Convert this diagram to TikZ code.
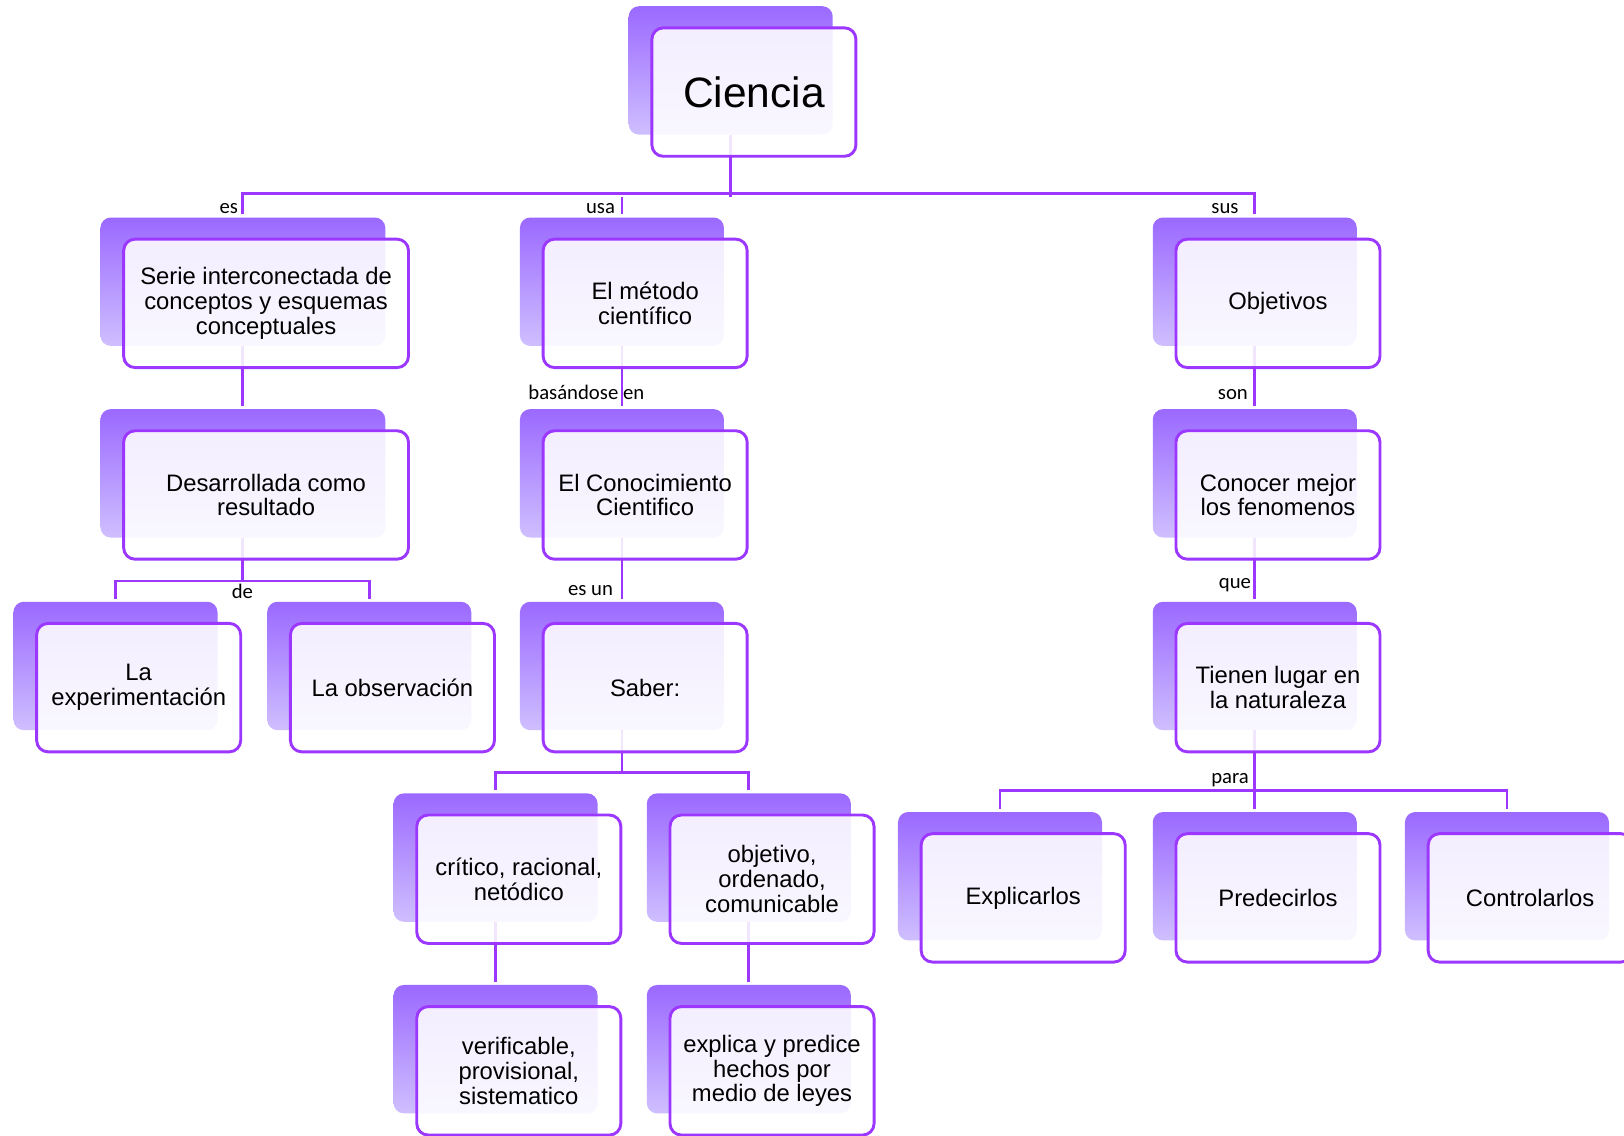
\documentclass[tikz,border=0pt]{standalone}
\usepackage{fontspec}
\setmainfont{Liberation Sans}
\newfontfamily\lblfont{Carlito}
\definecolor{vline}{RGB}{155,55,255}
\definecolor{btop}{RGB}{155,105,255}
\definecolor{bbot}{RGB}{207,191,255}
\tikzset{
  backbox/.style={rectangle, rounded corners=10pt, top color=btop, bottom color=bbot, draw=none,
    minimum width=197pt, minimum height=124pt, anchor=north west, inner sep=0pt, outer sep=0pt},
  wideback/.style={backbox, minimum width=275pt},
  frontbox/.style={rectangle, rounded corners=11pt, draw=vline, line width=2.8pt, fill=white,
    fill opacity=0.88, text opacity=1, minimum width=197pt, minimum height=124pt,
    anchor=north west, inner sep=0pt, align=center, font=\fontsize{23}{24}\selectfont},
  widefront/.style={frontbox, minimum width=275pt},
  conn/.style={draw=vline, line width=2.8pt},
  lbl/.style={font=\lblfont\fontsize{20}{24}\selectfont, inner sep=0pt, text=black},
}
\begin{document}
\begin{tikzpicture}[x=1pt,y=-1pt]
\fill[white] (0,0) rectangle (1568,1096);
\useasboundingbox (0,0) rectangle (1568,1096);
\clip (0,0) rectangle (1568,1096);

% back boxes
\node[backbox] (b-ciencia) at (607,6) {};
\node[wideback] (b-serie) at (97,210) {};
\node[backbox] (b-metodo) at (502,210) {};
\node[backbox] (b-obj) at (1113,210) {};
\node[wideback] (b-desarr) at (97,395) {};
\node[backbox] (b-conoc) at (502,395) {};
\node[backbox] (b-conocer) at (1113,395) {};
\node[backbox] (b-exp) at (13,581) {};
\node[backbox] (b-obs) at (258,581) {};
\node[backbox] (b-saber) at (502,581) {};
\node[backbox] (b-tienen) at (1113,581) {};
\node[backbox] (b-critico) at (380,766) {};
\node[backbox] (b-objetivo) at (624.5,766) {};
\node[backbox] (b-verif) at (380,951) {};
\node[backbox] (b-explica) at (624.5,951) {};
\node[backbox] (b-expl) at (867,784) {};
\node[backbox] (b-pred) at (1113,784) {};
\node[backbox] (b-contr) at (1356.5,784) {};

% connectors
\coordinate (h0) at (0,190);
\coordinate (h1) at (0,561);
\coordinate (h2) at (0,746);
\coordinate (h3) at (0,763.5);
\draw[conn] (b-ciencia.south) -- (b-ciencia.south |- h0);
\draw[conn] ([yshift=3pt]b-serie.north) |- ([yshift=3pt]b-obj.north |- h0) -- ([yshift=3pt]b-obj.north);
\draw[conn] (b-metodo.north |- h0) -- ([yshift=3pt]b-metodo.north);
\draw[conn] (b-serie.south) -- ([yshift=3pt]b-desarr.north);
\draw[conn] (b-metodo.south) -- ([yshift=3pt]b-conoc.north);
\draw[conn] (b-obj.south) -- ([yshift=3pt]b-conocer.north);
\draw[conn] (b-conoc.south) -- ([yshift=3pt]b-saber.north);
\draw[conn] (b-conocer.south) -- ([yshift=3pt]b-tienen.north);
\draw[conn] (b-desarr.south) -- (b-desarr.south |- h1);
\draw[conn] ([yshift=3pt]b-exp.north) |- (b-obs.north |- h1) -- ([yshift=3pt]b-obs.north);
\draw[conn] (b-saber.south) -- (b-saber.south |- h2);
\draw[conn] ([yshift=3pt]b-critico.north) |- (b-objetivo.north |- h2) -- ([yshift=3pt]b-objetivo.north);
\draw[conn] (b-critico.south) -- ([yshift=3pt]b-verif.north);
\draw[conn] (b-objetivo.south) -- ([yshift=3pt]b-explica.north);
\draw[conn] (b-tienen.south) -- ([yshift=3pt]b-pred.north);
\draw[conn] ([yshift=3pt]b-expl.north) |- (b-contr.north |- h3) -- ([yshift=3pt]b-contr.north);

% front boxes
\node[frontbox, font=\fontsize{41}{48}\selectfont] (ciencia) at ([shift={(21pt,-19.5pt)}]b-ciencia.north west) {Ciencia};
\node[widefront] (serie) at ([shift={(21pt,-19.5pt)}]b-serie.north west) {Serie interconectada de\\conceptos y esquemas\\conceptuales};
\node[frontbox] (metodo) at ([shift={(21pt,-19.5pt)}]b-metodo.north west) {El método\\científico};
\node[frontbox] (obj) at ([shift={(21pt,-19.5pt)}]b-obj.north west) {Objetivos};
\node[widefront] (desarr) at ([shift={(21pt,-19.5pt)}]b-desarr.north west) {Desarrollada como\\resultado};
\node[frontbox] (conoc) at ([shift={(21pt,-19.5pt)}]b-conoc.north west) {El Conocimiento\\Cientifico};
\node[frontbox] (conocer) at ([shift={(21pt,-19.5pt)}]b-conocer.north west) {Conocer mejor\\los fenomenos};
\node[frontbox] (exp) at ([shift={(21pt,-19.5pt)}]b-exp.north west) {La\\experimentación};
\node[frontbox] (obs) at ([shift={(21pt,-19.5pt)}]b-obs.north west) {La observación};
\node[frontbox] (saber) at ([shift={(21pt,-19.5pt)}]b-saber.north west) {Saber:};
\node[frontbox] (tienen) at ([shift={(21pt,-19.5pt)}]b-tienen.north west) {Tienen lugar en\\la naturaleza};
\node[frontbox] (critico) at ([shift={(21pt,-19.5pt)}]b-critico.north west) {crítico, racional,\\netódico};
\node[frontbox] (objetivo) at ([shift={(21pt,-19.5pt)}]b-objetivo.north west) {objetivo,\\ordenado,\\comunicable};
\node[frontbox] (verif) at ([shift={(21pt,-19.5pt)}]b-verif.north west) {verificable,\\provisional,\\sistematico};
\node[frontbox] (explica) at ([shift={(21pt,-19.5pt)}]b-explica.north west) {explica y predice\\hechos por\\medio de leyes};
\node[frontbox] (expl) at ([shift={(21pt,-19.5pt)}]b-expl.north west) {Explicarlos};
\node[frontbox] (pred) at ([shift={(21pt,-19.5pt)}]b-pred.north west) {Predecirlos};
\node[frontbox] (contr) at ([shift={(21pt,-19.5pt)}]b-contr.north west) {Controlarlos};

% labels
\node[lbl, anchor=base east] (l-es) at (230,206) {es};
\node[lbl, anchor=base east] (l-usa) at (594,206) {usa};
\node[lbl, anchor=base east] (l-sus) at (1196,206) {sus};
\node[lbl, anchor=base west] (l-bas) at (510,386) {basándose en};
\node[lbl, anchor=base east] (l-son) at (1205,386) {son};
\node[lbl, anchor=base east] (l-esun) at (592,574.5) {es un};
\node[lbl, anchor=base] (l-de) at (234,578) {de};
\node[lbl, anchor=base east] (l-que) at (1208,568.5) {que};
\node[lbl, anchor=base east] (l-para) at (1206,756) {para};
\end{tikzpicture}
\end{document}
